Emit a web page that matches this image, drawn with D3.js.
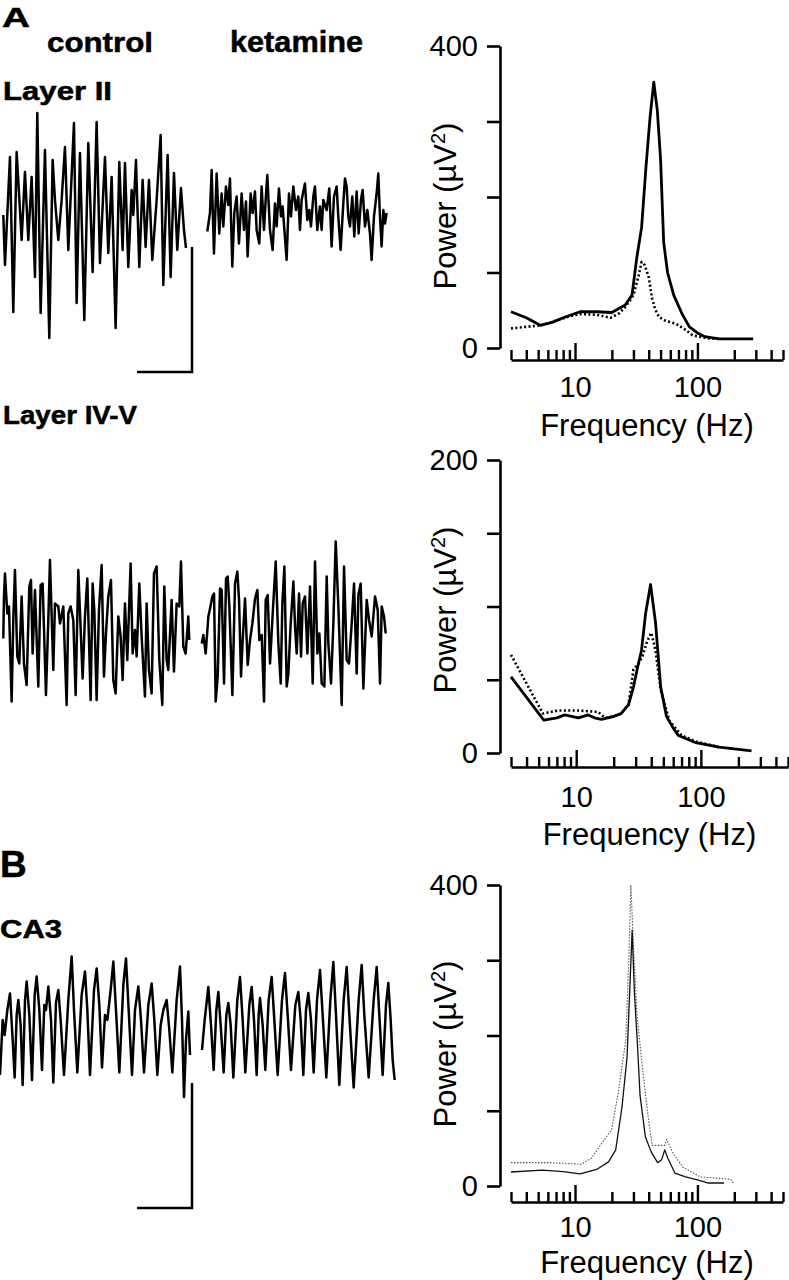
<!DOCTYPE html>
<html><head><meta charset="utf-8">
<script src="https://cdn.jsdelivr.net/npm/d3@7"></script>
<style>body{margin:0;background:#fff}svg{display:block}text{font-family:"Liberation Sans",Arial,sans-serif;fill:#000}</style>
</head><body>
<script>
// ---------- DATA ----------
const freqTicks = [3,4,5,6,7,8,9,10,20,30,40,50,60,70,80,90,100,200,300,400,500];
const freqMajor = [10,100];
const freqTickLabels = [10,100];

// Layer II spectra (solid = control, dotted = ketamine)
const l2CtrlFreq = [3,4,5.2,6.5,8,11,15,20,25.7,29.2,32,35,38,41,44,47,50,53,57,64,75,86,100,115,150,200,285];
const l2CtrlPow  = [48,40,30,34,40,48,48,47,57,70,120,160,240,305,352,315,250,140,100,70,45,28,20,15,12,12,12];
const l2KetFreq  = [3,4,5.2,7,9,11,15,19.5,23,26,30,33,35,37,40,42.6,45,48.5,55,67,80,91,118,150];
const l2KetPow   = [26,28,30,36,42,45,44,40,46,55,70,95,114,110,94,66,52,41,36,32,24,17,13,12];
const l2PowTicks = [0,100,200,300,400];

// Layer IV-V spectra
const l45CtrlFreq = [3,5.5,7,8.1,10.4,12.5,14,16,20,23,26.3,28.8,31,33.4,36,39.5,43.3,47.6,53,60,66,80,91,140,255];
const l45CtrlPow  = [52,22.5,24,26,24,26,24,23,25,27,33,45,58,70,95,115,89,45,25,17,12,9,7,4,1.5];
const l45KetFreq  = [3,5.4,7.2,10.4,15,17,20,23,26.3,28.8,31.6,34,37,40,43.3,47.6,56,70,90,140];
const l45KetPow   = [67,27,29,29,28,24,25,27,33,57,61,66,76,82,70,43,22,12,8,4];
const l45PowTicks = [0,50,100,150,200];

// CA3 spectra
const ca3CtrlFreq = [3,5.4,8,11,15,18.8,21.5,24.2,26.6,28,29.3,30.5,32.2,34,37.6,42,47.3,51,54.1,57.3,65.6,80,100,121,165];
const ca3CtrlPow  = [18.6,21,19,16,22,32,48,105,171,260,340,260,194,120,65,45,31,35,48,37,17,12,8,4,4];
const ca3KetFreq  = [3,6.3,11.2,13.6,19.9,22.5,26,27.5,28.6,30,32,35,39,42.6,54,56,63,76,106,187,196];
const ca3KetPow   = [31,31,29,37,75,123,194,300,400,320,230,167,100,54,54,62,44,25,12,9,4];
const ca3PowTicks = [0,100,200,300,400];

// Field traces: [time (ms), potential (µV)]
const l2CtrlTrace = [[0,-4],[5,-104],[20,112],[30,-198],[40,122],[50,6],[55,-54],[65,82],[75,-54],[85,72],[95,-128],[102,200],[112,-200],[125,126],[138,-250],[148,106],[155,26],[165,-54],[175,26],[185,132],[195,-74],[212,180],[220,-180],[230,120],[243,-214],[255,140],[268,-118],[280,182],[290,-100],[305,112],[315,-80],[325,72],[337,-230],[348,102],[358,-74],[365,100],[375,-108],[385,46],[390,-4],[398,106],[408,-108],[418,66],[427,-68],[437,66],[447,-94],[460,26],[472,156],[480,-144],[493,116],[502,-128],[512,80],[522,-74],[533,50],[542,-34],[548,-70]];
const l2KetTrace = [[0,-37],[8,0],[13,86],[20,-81],[28,79],[36,-41],[43,39],[48,-27],[56,53],[63,16],[68,69],[75,-107],[81,0],[88,33],[95,-61],[103,39],[110,-34],[116,23],[121,-87],[130,39],[136,0],[143,43],[148,-34],[156,-61],[163,53],[170,-34],[176,36],[180,76],[188,-34],[196,-74],[203,19],[208,-27],[215,49],[221,-7],[226,13],[238,-94],[245,39],[251,-7],[258,53],[266,6],[273,33],[278,-34],[283,26],[293,59],[300,-14],[306,6],[311,-27],[318,33],[323,53],[330,-34],[338,13],[343,-34],[348,26],[358,6],[366,49],[373,-67],[380,33],[388,53],[393,-7],[400,-74],[408,19],[413,69],[418,53],[423,-7],[428,-27],[435,33],[441,-47],[448,43],[454,-41],[461,26],[466,46],[473,-27],[480,6],[488,-41],[493,-94],[500,-7],[508,39],[513,79],[518,-7],[523,-67],[528,6],[533,-21],[538,0]];
const l45CtrlTrace = [[0,-23],[2,61],[5,107],[12,27],[17,41],[25,-149],[30,14],[35,114],[42,-59],[48,-73],[55,61],[62,-73],[70,-116],[78,81],[83,94],[88,-53],[95,74],[105,-119],[112,84],[118,87],[128,-136],[135,14],[140,134],[150,-86],[155,47],[165,41],[170,7],[180,41],[190,-156],[195,27],[202,41],[210,14],[217,-136],[225,114],[238,-103],[245,21],[252,97],[262,-146],[268,87],[273,34],[280,-146],[287,34],[295,124],[302,-99],[308,-13],[315,61],[323,94],[330,-106],[337,-133],[345,21],[352,-19],[358,-106],[365,47],[372,-66],[382,127],[388,-53],[395,-6],[400,-59],[408,87],[415,-19],[425,-139],[430,47],[437,-86],[445,-133],[452,107],[460,121],[468,-66],[477,-156],[483,81],[490,-66],[495,-86],[505,54],[512,-89],[520,47],[528,41],[533,131],[540,-39],[547,-53],[555,21],[558,-26]];
const l45KetTrace = [[0,-33],[5,-16],[12,-53],[20,21],[25,37],[32,61],[37,67],[42,-149],[48,-99],[55,77],[60,74],[67,-113],[73,97],[78,101],[83,41],[92,-136],[100,87],[107,111],[112,54],[118,-99],[123,-26],[130,57],[138,-76],[145,-26],[152,7],[160,57],[167,74],[173,-26],[180,-16],[187,-149],[192,54],[198,64],[205,-73],[213,27],[222,131],[230,-33],[237,-113],[242,47],[248,121],[255,-119],[260,-93],[267,7],[275,91],[280,1],[285,-53],[292,67],[298,-59],[303,47],[310,61],[317,-53],[325,81],[333,-113],[340,131],[347,-53],[353,-13],[360,-113],[368,-119],[375,101],[380,-33],[388,-113],[395,7],[402,171],[410,41],[420,-156],[427,121],[435,-66],[442,-73],[450,7],[457,87],[465,-93],[470,64],[477,87],[485,-123],[495,54],[502,14],[510,-19],[520,61],[528,34],[535,-113],[540,41],[547,21],[552,-13]];
const ca3CtrlTrace = [[0,-90],[8,20],[14,-10],[22,40],[30,73],[38,-20],[44,-95],[50,30],[55,60],[62,10],[68,-110],[75,60],[80,97],[88,30],[96,-100],[104,70],[110,107],[118,40],[126,-80],[133,50],[138,40],[145,87],[153,20],[160,-105],[168,55],[175,80],[182,20],[192,-90],[205,60],[215,147],[222,40],[232,-85],[245,70],[255,117],[262,40],[270,-90],[282,80],[290,123],[298,50],[306,-75],[315,30],[322,20],[332,80],[340,137],[348,40],[358,-85],[370,90],[378,143],[386,40],[396,-90],[405,40],[415,87],[423,20],[432,-85],[445,50],[455,93],[463,20],[472,-90],[482,10],[490,40],[500,60],[508,0],[517,-85],[530,60],[540,127],[546,20],[552,-134],[558,-20],[565,37],[570,-50]];
const ca3KetTrace = [[0,-40],[8,20],[19,86],[27,10],[35,-80],[43,40],[49,76],[57,0],[65,-85],[73,30],[79,54],[86,10],[94,-95],[106,60],[114,106],[122,20],[130,-85],[142,50],[149,86],[156,20],[164,-90],[170,30],[174,64],[182,10],[190,-80],[200,60],[209,106],[217,20],[227,-90],[240,60],[249,114],[257,30],[267,-80],[280,50],[289,76],[296,20],[304,-90],[312,40],[319,74],[327,20],[335,-85],[345,60],[354,120],[362,30],[373,-95],[385,60],[394,136],[402,30],[412,-110],[425,60],[434,126],[442,30],[455,-115],[470,60],[479,130],[487,30],[500,-95],[515,60],[524,126],[532,30],[542,-90],[552,50],[559,94],[566,20],[572,-60],[578,-100]];

const scaleBarMs = 165, scaleBarUV = 250;

// ---------- DRAW ----------
const svg = d3.select("body").append("svg").attr("width",789).attr("height",1280);
svg.append("rect").attr("width",789).attr("height",1280).attr("fill","#fff");
const FONT = '"Liberation Sans",Arial,sans-serif';

function label(txt, x, y, size, len, bold=true){
  const t = svg.append("text").attr("x",x).attr("y",y).attr("font-size",size)
    .attr("font-weight",bold?"bold":"normal").attr("stroke","#000").attr("stroke-width",0.5).text(txt);
  if(len) t.attr("textLength",len).attr("lengthAdjust","spacingAndGlyphs");
  return t;
}
label("A",2,27,28,28);
label("control",47,52,28,106);
label("ketamine",230,52,29,133);
label("Layer II",3,100,26,109);
label("Layer IV-V",3,424,26,134);
label("B",0,877,37,null);
label("CA3",0,938,26,62);

// traces
function trace(data, x0, yc){
  const xs = d3.scaleLinear().domain([0,3]).range([x0,x0+1]);
  const ys = d3.scaleLinear().domain([-250,250]).range([yc+125,yc-125]);
  svg.append("path").datum(data)
    .attr("d", d3.line().x(d=>xs(d[0])).y(d=>ys(d[1])))
    .attr("fill","none").attr("stroke","#000").attr("stroke-width",2.5)
    .attr("stroke-linejoin","round");
  return {xs, ys};
}
const tA = trace(l2CtrlTrace, 3.3, 213);
trace(l2KetTrace, 207.3, 213);
trace(l45CtrlTrace, 3.3, 627);
trace(l45KetTrace, 201.7, 627);
const tB = trace(ca3CtrlTrace, 0, 1030);
trace(ca3KetTrace, 202, 1030);

function scaleBar(xRight, yBottom, sc){
  const w = sc.xs(scaleBarMs) - sc.xs(0);
  const h = sc.ys(0) - sc.ys(scaleBarUV);
  svg.append("path").attr("d",`M${xRight-w},${yBottom}H${xRight}V${yBottom-h}`)
    .attr("fill","none").attr("stroke","#000").attr("stroke-width",2.5);
}
scaleBar(192, 372, tA);
scaleBar(192, 1208, tB);

// spectra
function spectrum(c){
  const x = d3.scaleLog().domain([3,500]).range([511, c.xEnd]);
  const y = d3.scaleLinear().domain([0, c.yMax]).range([c.y0, c.yTop]);
  const g = svg.append("g");
  const ya = g.append("g").attr("transform","translate(500,0)")
    .call(d3.axisLeft(y).tickValues(c.yTicks).tickSize(13).tickSizeOuter(0).tickPadding(9)
      .tickFormat(d => (d===0||d===c.yMax)? d : ""));
  ya.selectAll("path,line").attr("stroke","#000").attr("stroke-width",2.6);
  ya.selectAll("text").attr("font-size",29).attr("font-family",FONT).attr("fill","#000");
  const xa = g.append("g").attr("transform",`translate(0,${c.axisY})`)
    .call(d3.axisBottom(x).tickValues(freqTicks).tickSize(-10).tickSizeOuter(0).tickPadding(c.tickPad)
      .tickFormat(d => freqTickLabels.includes(d) ? d : ""));
  xa.selectAll("path,line").attr("stroke","#000").attr("stroke-width",2.4);
  xa.selectAll(".tick").filter(d=>freqMajor.includes(d)).select("line").attr("y2",-17);
  xa.selectAll("text").attr("font-size",29).attr("font-family",FONT).attr("fill","#000");
  g.append("text").attr("x",(511+c.xEnd)/2).attr("y",c.titleY).attr("text-anchor","middle")
    .attr("font-size",31).text("Frequency (Hz)");
  const yl = g.append("text").attr("transform",`translate(456,${c.ylabCy}) rotate(-90)`)
    .attr("text-anchor","middle").attr("font-size",31);
  yl.append("tspan").text("Power (\u00b5V");
  yl.append("tspan").attr("font-size",20).attr("dy",-11).text("2");
  yl.append("tspan").attr("dy",11).text(")");
  const line = d3.line().x(d=>x(d[0])).y(d=>y(d[1]));
  c.series.forEach(s=>{
    g.append("path").datum(d3.zip(s.f,s.p)).attr("d",line).attr("fill","none")
      .attr("stroke",s.color).attr("stroke-width",s.w)
      .attr("stroke-dasharray",s.dash||null).attr("stroke-linejoin","round");
  });
}
spectrum({xEnd:783, y0:348, yTop:46, yMax:400, yTicks:l2PowTicks, axisY:360, tickPad:16, titleY:436, ylabCy:206,
  series:[{f:l2KetFreq,p:l2KetPow,color:"#000",w:2.6,dash:"2,2.4"},{f:l2CtrlFreq,p:l2CtrlPow,color:"#000",w:2.8}]});
spectrum({xEnd:788, y0:753, yTop:460, yMax:200, yTicks:l45PowTicks, axisY:767, tickPad:19, titleY:845, ylabCy:610,
  series:[{f:l45KetFreq,p:l45KetPow,color:"#000",w:2.6,dash:"2,2.4"},{f:l45CtrlFreq,p:l45CtrlPow,color:"#000",w:2.8}]});
spectrum({xEnd:783, y0:1186, yTop:885, yMax:400, yTicks:ca3PowTicks, axisY:1202, tickPad:14, titleY:1273, ylabCy:1044,
  series:[{f:ca3KetFreq,p:ca3KetPow,color:"#555",w:1.1,dash:"1.5,1.5"},{f:ca3CtrlFreq,p:ca3CtrlPow,color:"#111",w:1.3}]});
</script>
</body></html>
